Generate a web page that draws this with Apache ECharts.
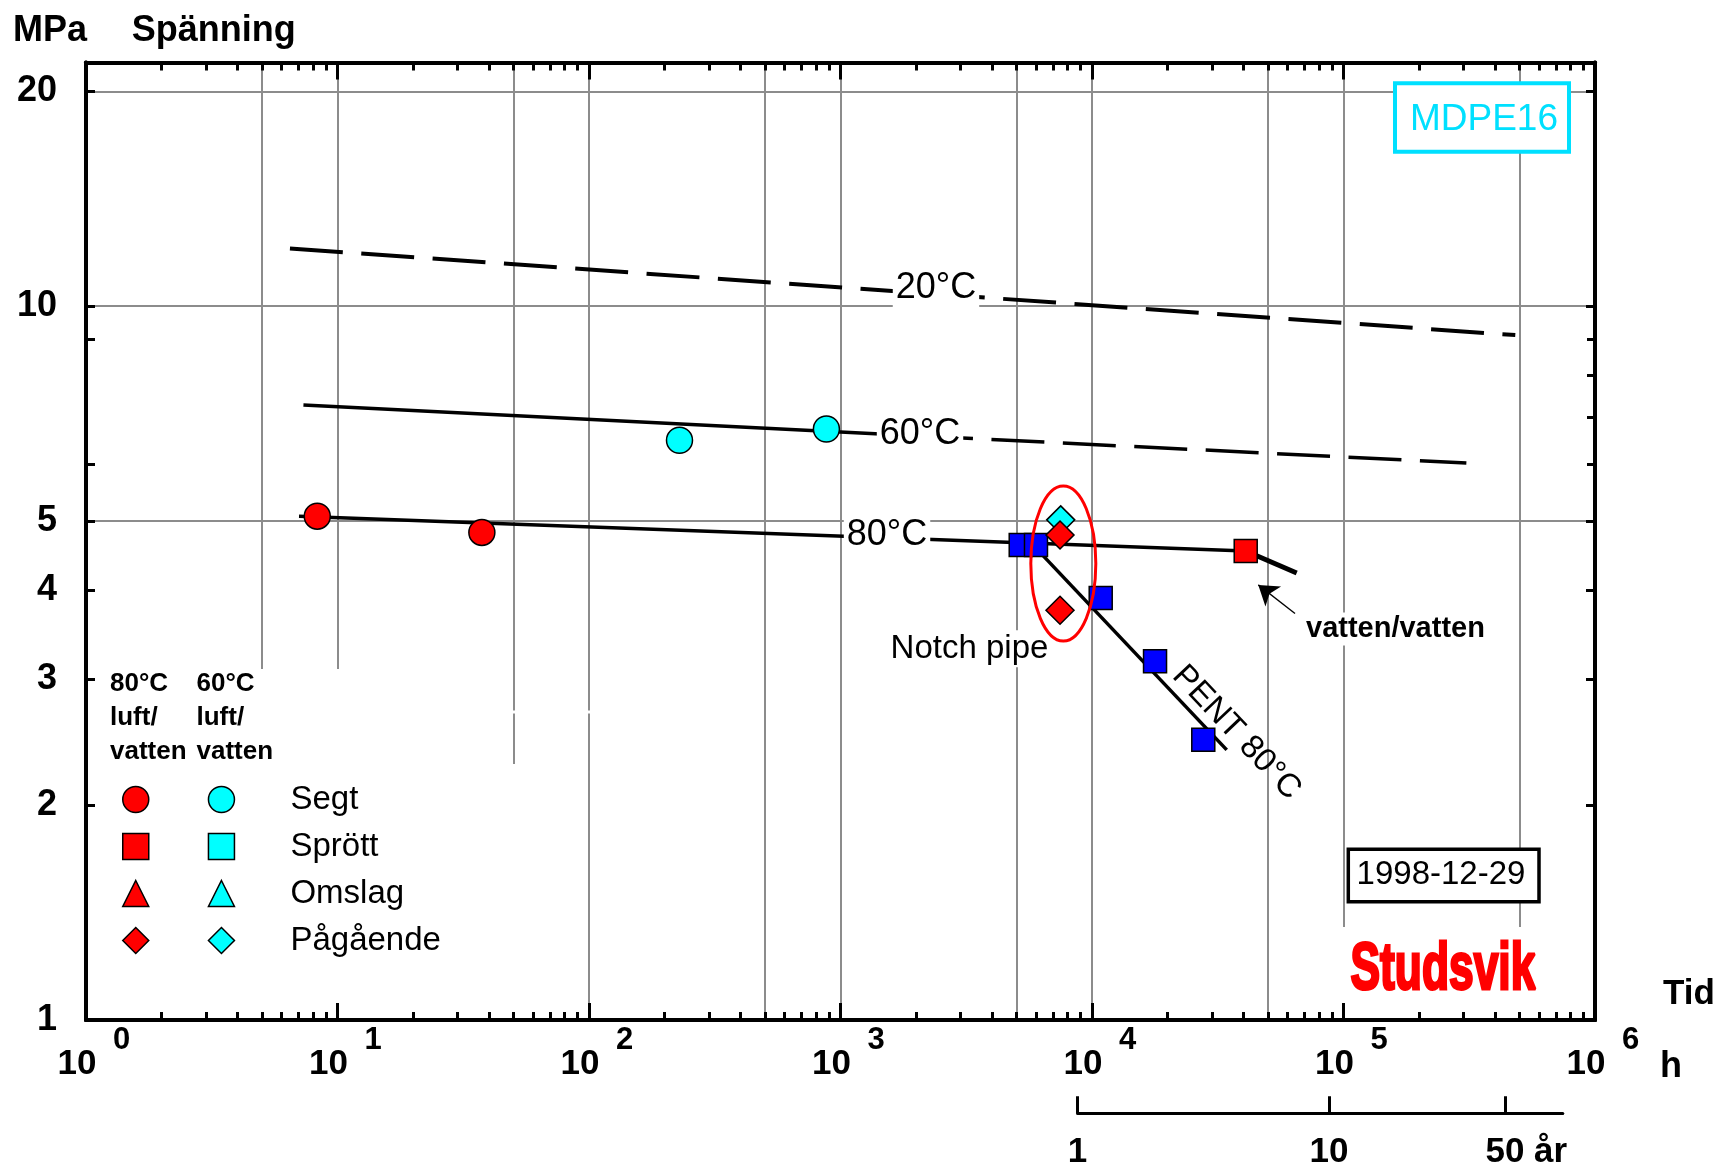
<!DOCTYPE html>
<html><head><meta charset="utf-8">
<script src="https://cdn.jsdelivr.net/npm/echarts@6/dist/echarts.min.js"></script>
<style>html,body{margin:0;padding:0;background:#fff}#c{width:1721px;height:1167px}</style>
</head><body><div id="c"></div>
<script>
// ================= DATA =================
// time axis (hours, log scale) and stress axis (MPa, log scale)
const xDecades = [0, 1, 2, 3, 4, 5, 6];                 // tick labels 10^n h
const xMaxHours = 1e6;
const xGridHours = [5, 10, 50, 100, 500, 1000, 5000, 10000, 50000, 100000, 500000];
const xMinorFactors = [2, 3, 4, 5, 6, 7, 8, 9];
const yTickLabels = [1, 2, 3, 4, 5, 10, 20];
const yTopMPa = 21.95;
const yGridMPa = [5, 10, 20];
const yMinorLeft = [6, 9];
const yMinorRight = [6, 7, 8, 9];
const yearTicks = [1, 10, 50];
const yearAxisEndYears = 85;
const hoursPerYear = 8760;

// measured points [hours, MPa]
const segt80 = [[8.31, 5.08], [37.5, 4.82]];
const segt60 = [[229, 6.49], [879, 6.73]];
const sprott80 = [[40850, 4.54]];
const sprott60 = [];
const omslag80 = [];
const omslag60 = [];
const pagaende80 = [[7461, 4.78], [7461, 3.75]];
const pagaende60 = [[7509, 5.02]];
const pent80 = [[5207, 4.63], [5988, 4.63], [10830, 3.90], [17810, 3.18], [27700, 2.47]];

// curves [hours, MPa]
const curve20 = [[6.47, 12.05], [482000, 9.11]];
const curve60Solid = [[7.32, 7.27], [2071, 6.58]];
const curve60Dashed = [[2071, 6.58], [308000, 6.03]];
const curve80 = [[7.03, 5.08], [40850, 4.54]];
const curveVatten = [[40850, 4.54], [65150, 4.23]];
const curvePent = [[5757, 4.65], [34330, 2.39]];

// annotation anchors [hours, MPa]
const labelTexts = ['20°C', '60°C', '80°C', 'Notch pipe', 'vatten/vatten', 'PENT 80°C'];
const labelAnchors = [[2397, 10.59], [2071, 6.62], [1531, 4.78], [3258, 3.313], [69020, 3.53], [37550, 2.527]];
const arrowFrom = [64150, 3.71];
const arrowTo = [45830, 4.07];
const ellipseCenter = [7690, 4.36];

// ================= CHART =================
const L = Math.log10;
const P = d => [L(d[0]), L(d[1])];
const FONT = '"Liberation Sans", Arial, Helvetica, sans-serif';
const GRIDC = '#8c8c8c';
const box = { left: 86, top: 62.5, width: 1509, height: 957.5 };
const xMax = L(xMaxHours);
const yMax = L(yTopMPa);
const pxPerDecade = box.width / xMax;

const xMinor = [];
for (let n = 0; n < xMax; n++) xMinorFactors.forEach(f => xMinor.push(L(f * Math.pow(10, n))));

const yrMin = L(yearTicks[0] * hoursPerYear);
const yrMax = L(yearAxisEndYears * hoursPerYear);
const yearGrid = {
  left: box.left + yrMin * pxPerDecade, width: (yrMax - yrMin) * pxPerDecade,
  top: 1080, height: 33.3, outerBoundsMode: 'none', containLabel: false
};

function grid() { return Object.assign({ outerBoundsMode: 'none', containLabel: false }, box); }
const hidden = { show: false };
const blackLine = w => ({ show: true, onZero: false, lineStyle: { color: '#000', width: w } });

function tickAxis(kind, gi, pos, values, len, label) {
  return {
    type: 'value', gridIndex: gi, position: pos,
    min: 0, max: kind === 'x' ? xMax : yMax,
    axisLine: blackLine(4),
    axisTick: { show: true, inside: true, length: len, lineStyle: { color: '#000', width: 3 }, customValues: values },
    axisLabel: label || { show: false },
    splitLine: hidden, z: 6
  };
}

const xAxis = [
  { type: 'value', gridIndex: 0, position: 'bottom', min: 0, max: xMax,
    axisLine: { show: false, onZero: false }, axisTick: { show: false, customValues: xGridHours.map(L) },
    axisLabel: hidden, splitLine: { show: true, lineStyle: { color: GRIDC, width: 2 } }, z: 0 },
  tickAxis('x', 1, 'bottom', xDecades, 17, {
    show: true, customValues: xDecades, margin: 26.5,
    formatter: () => '{b|10}',
    rich: { b: { fontSize: 35, fontWeight: 'bold', fontFamily: FONT, color: '#000', lineHeight: 35, padding: [0, 18, 0, 0] } }
  }),
  tickAxis('x', 1, 'top', xDecades, 17),
  tickAxis('x', 2, 'bottom', xMinor, 8, {
    show: true, customValues: xDecades, margin: 5,
    formatter: v => '{e|' + Math.round(v) + '}',
    rich: { e: { fontSize: 31, fontWeight: 'bold', fontFamily: FONT, color: '#000', lineHeight: 31, padding: [0, 0, 0, 71] } }
  }),
  tickAxis('x', 2, 'top', xMinor, 8),
  { type: 'value', gridIndex: 3, position: 'bottom', min: yrMin, max: yrMax,
    axisLine: { show: true, onZero: false, lineStyle: { color: '#000', width: 3 } },
    axisTick: { show: true, inside: true, length: 17, lineStyle: { color: '#000', width: 3 },
      customValues: yearTicks.map(y => L(y * hoursPerYear)) },
    axisLabel: { show: true, customValues: yearTicks.map(y => L(y * hoursPerYear)), margin: 21.7,
      formatter: v => {
        const y = Math.round(Math.pow(10, v) / hoursPerYear);
        return y === yearTicks[yearTicks.length - 1] ? '{a|' + y + '}{u| år}' : '{n|' + y + '}';
      },
      rich: {
        n: { fontSize: 35, fontWeight: 'bold', fontFamily: FONT, color: '#000', lineHeight: 35 },
        a: { fontSize: 35, fontWeight: 'bold', fontFamily: FONT, color: '#000', lineHeight: 35, padding: [0, 0, 0, 43] },
        u: { fontSize: 35, fontWeight: 'bold', fontFamily: FONT, color: '#000', lineHeight: 35 }
      } },
    splitLine: hidden, z: 6 }
];

const yAxis = [
  { type: 'value', gridIndex: 0, position: 'left', min: 0, max: yMax,
    axisLine: { show: false, onZero: false }, axisTick: { show: false, customValues: yGridMPa.map(L) },
    axisLabel: hidden, splitLine: { show: true, lineStyle: { color: GRIDC, width: 2 } }, z: 0 },
  tickAxis('y', 1, 'left', yTickLabels.map(L), 9, {
    show: true, customValues: yTickLabels.map(L), margin: 29,
    formatter: v => String(Math.round(Math.pow(10, v))),
    fontSize: 36, fontWeight: 'bold', fontFamily: FONT, color: '#000'
  }),
  tickAxis('y', 1, 'right', yTickLabels.map(L), 9),
  tickAxis('y', 2, 'left', yMinorLeft.map(L), 9),
  tickAxis('y', 2, 'right', yMinorRight.map(L), 8),
  { type: 'value', gridIndex: 3, show: false, min: 0, max: 1, axisLine: { onZero: false } }
];

const RED = '#ff0000', CYAN = '#00ffff', BLUE = '#0000ff';
const symSize = { circle: 26, rect: 23, triangle: 27, diamond: 28 };
function scatter(name, data, symbol, color, z) {
  return { type: 'scatter', name, xAxisIndex: 0, yAxisIndex: 0, data: data.map(P),
    symbol, symbolSize: symSize[symbol], z: z || 3, silent: true,
    itemStyle: { color, borderColor: '#000', borderWidth: 1.5, opacity: 1 }, emphasis: { disabled: true } };
}
function curve(name, data, width, type, extra) {
  return Object.assign({ type: 'line', name, xAxisIndex: 0, yAxisIndex: 0, data: data.map(P),
    symbol: 'none', showSymbol: false, silent: true, z: 2,
    lineStyle: { color: '#000', width, type: type || 'solid', cap: 'butt', opacity: 1 }, emphasis: { disabled: true } }, extra || {});
}

const labelStyles = [
  { fontSize: 36, backgroundColor: '#fff', padding: [3, 3, 6, 3] },
  { fontSize: 36, backgroundColor: '#fff', padding: [3, 3, 3, 3] },
  { fontSize: 36, backgroundColor: '#fff', padding: [4, 3, 3, 3] },
  { fontSize: 33, backgroundColor: '#fff', padding: [2, 3, 2, 3] },
  { fontSize: 29, fontWeight: 'bold', backgroundColor: '#fff', padding: [2, 3, 2, 3], align: 'left' },
  { fontSize: 33, rotate: -46.7 }
];

const series = [
  curve('20°C', curve20, 4, [53, 18.5]),
  curve('60°C', curve60Solid, 3.5),
  curve('60°C streckad', curve60Dashed, 3.5, [53, 18.5]),
  curve('80°C', curve80, 3.5),
  curve('vatten/vatten', curveVatten, 5, 'solid', {
    markLine: { silent: true, animation: false, symbol: ['none', 'arrow'], symbolSize: 19,
      label: { show: false }, lineStyle: { color: '#000', width: 1.3, type: 'solid', opacity: 1 },
      itemStyle: { color: '#000', opacity: 1 },
      data: [[{ coord: P(arrowFrom) }, { coord: P(arrowTo) }]] }
  }),
  curve('PENT 80°C', curvePent, 3.5),
  scatter('PENT 80°C blå', pent80, 'rect', BLUE),
  scatter('60°C Segt', segt60, 'circle', CYAN),
  scatter('80°C Segt', segt80, 'circle', RED),
  scatter('60°C Sprött', sprott60, 'rect', CYAN),
  scatter('80°C Sprött', sprott80, 'rect', RED),
  scatter('60°C Omslag', omslag60, 'triangle', CYAN),
  scatter('80°C Omslag', omslag80, 'triangle', RED),
  scatter('60°C Pågående', pagaende60, 'diamond', CYAN),
  scatter('80°C Pågående', pagaende80, 'diamond', RED),
  { type: 'scatter', name: 'annotations', xAxisIndex: 0, yAxisIndex: 0, z: 5, silent: true,
    symbolSize: 0.1, itemStyle: { color: 'rgba(0,0,0,0)', opacity: 1 },
    data: labelAnchors.map((a, i) => ({ value: P(a), name: labelTexts[i],
      label: Object.assign({ show: true, position: 'inside', formatter: '{b}', color: '#000', opacity: 1,
        fontFamily: FONT }, labelStyles[i]) })) }
];

const legendRows = ['Segt', 'Sprött', 'Omslag', 'Pågående'];
const legendIcons = ['circle', 'rect', 'triangle', 'diamond'];
function legendCol(prefix, left, withText) {
  return {
    show: true, orient: 'vertical', left, top: 783, padding: 0,
    itemWidth: 26, itemHeight: 26, itemGap: 14, selectedMode: false,
    data: legendRows.map((r, i) => ({ name: prefix + ' ' + r, icon: legendIcons[i] })),
    formatter: withText ? (n => n.replace(prefix + ' ', '')) : (() => ' '),
    itemStyle: { borderColor: '#000', borderWidth: 1.5, opacity: 1 },
    textStyle: { fontSize: 33, lineHeight: 30, color: '#000', fontFamily: FONT, padding: withText ? [0, 0, 0, 51] : 0 }
  };
}

const chart = echarts.init(document.getElementById('c'), null, { renderer: 'canvas' });
chart.setOption({
  animation: false,
  backgroundColor: '#fff',
  grid: [grid(), grid(), grid(), yearGrid],
  xAxis, yAxis,
  legend: [legendCol('80°C', 122, false), legendCol('60°C', 207.7, true)],
  series
});

function txt(text, x, y, font, opts) {
  return Object.assign({ type: 'text', x, y, z: 8, silent: true,
    style: Object.assign({ text, font, fill: '#000', align: 'left', verticalAlign: 'middle',
      textAlign: 'left', textVerticalAlign: 'middle' }, (opts && opts.style) || {}) }, (opts && opts.el) || {});
}

const ec = chart.convertToPixel({ gridIndex: 0 }, P(ellipseCenter));
const B = 'bold ';
chart.setOption({
  graphic: [
    // white areas that hide grid lines behind legend and logo
    { type: 'rect', z: 1, silent: true, shape: { x: 89, y: 669, width: 418, height: 349 }, style: { fill: '#fff' } },
    { type: 'rect', z: 1, silent: true, shape: { x: 507, y: 764, width: 30, height: 254 }, style: { fill: '#fff' } },
    { type: 'rect', z: 1, silent: true, shape: { x: 505, y: 710.5, width: 95, height: 3 }, style: { fill: '#fff' } },
    { type: 'rect', z: 1, silent: true, shape: { x: 1342, y: 927, width: 205, height: 91 }, style: { fill: '#fff' } },
    // titles
    txt('MPa', 13, 31, B + '36px ' + FONT),
    txt('Spänning', 131.7, 31, B + '36px ' + FONT),
    txt('Tid', 1663, 994, B + '35px ' + FONT),
    txt('h', 1660, 1067.5, B + '36px ' + FONT),
    // legend headers
    txt('80°C\nluft/\nvatten', 110, 667, B + '26px ' + FONT, { style: { verticalAlign: 'top', textVerticalAlign: 'top', lineHeight: 34 } }),
    txt('60°C\nluft/\nvatten', 196.5, 667, B + '26px ' + FONT, { style: { verticalAlign: 'top', textVerticalAlign: 'top', lineHeight: 34 } }),
    // MDPE16 box
    { type: 'rect', z: 7, silent: true, shape: { x: 1395, y: 83.3, width: 174, height: 68.4 }, style: { fill: '#fff', stroke: '#00e0ff', lineWidth: 4 } },
    txt('MDPE16', 1484, 119.7, '37px ' + FONT, { style: { fill: '#00e0ff', align: 'center', textAlign: 'center' } }),
    // date box
    { type: 'rect', z: 7, silent: true, shape: { x: 1348.3, y: 849.3, width: 190.7, height: 52.4 }, style: { fill: '#fff', stroke: '#000', lineWidth: 3.5 } },
    txt('1998-12-29', 1441, 874.5, '33px ' + FONT, { style: { align: 'center', textAlign: 'center' } }),
    // logo
    txt('Studsvik', 1350.5, 971, B + '66px ' + FONT, { style: { fill: '#ff0000', stroke: '#ff0000', lineWidth: 3 }, el: { scaleX: 0.672 } }),
    // ellipse around notch pipe results
    { type: 'ellipse', z: 9, silent: true, shape: { cx: ec[0], cy: ec[1], rx: 32.5, ry: 77.5 }, style: { fill: 'none', stroke: '#ff0000', lineWidth: 3 } }
  ]
});
</script>
</body></html>
